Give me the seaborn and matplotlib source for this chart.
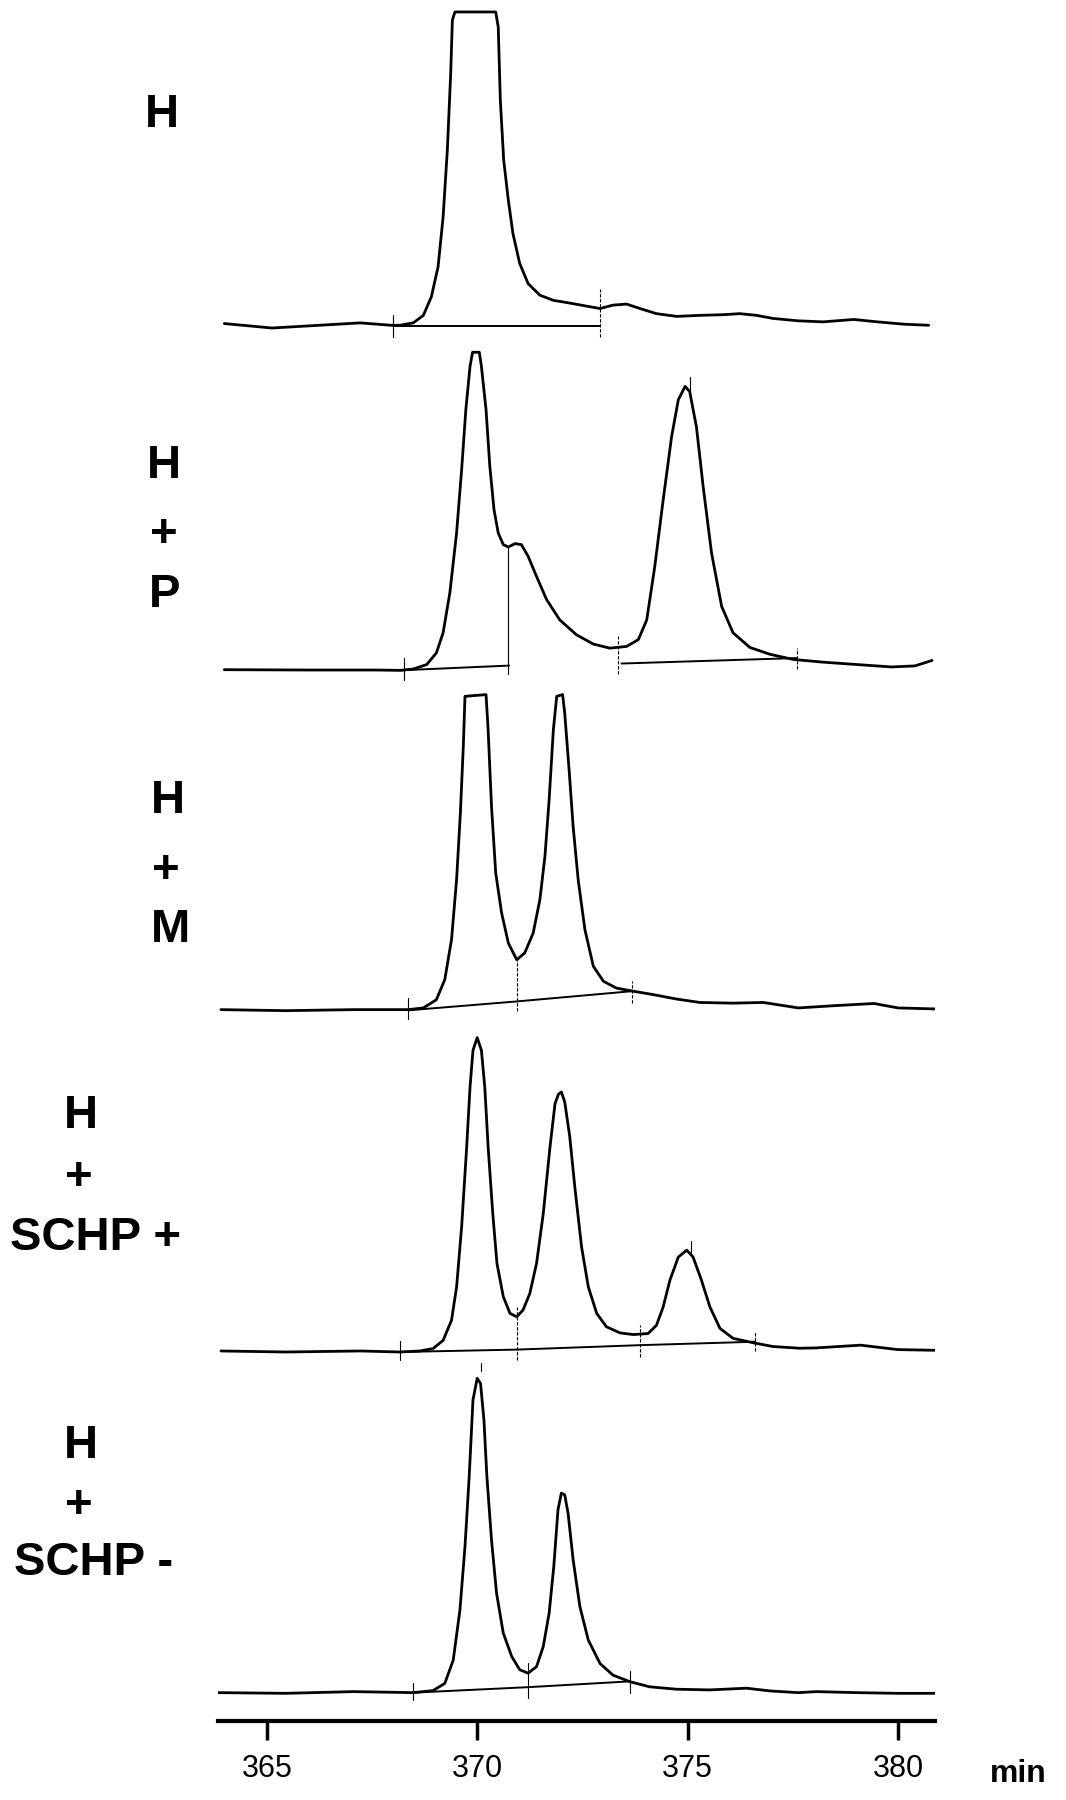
import matplotlib
matplotlib.use("Agg")
import matplotlib.pyplot as plt
import pandas as pd
import seaborn as sns

# retention time (min) and detector signal above each trace's baseline
h_time = [363.99, 365.12, 366.25, 367.22, 367.95, 368.16, 368.48, 368.72, 368.91, 369.07,
          369.19, 369.29, 369.37, 369.41, 369.47, 370.44, 370.50, 370.55, 370.63, 370.74,
          370.85, 371.01, 371.21, 371.49, 371.81, 372.20, 372.60, 372.92, 373.23, 373.55,
          373.87, 374.26, 374.74, 375.29, 375.85, 376.24, 376.64, 377.03, 377.63, 378.22,
          378.95, 379.51, 380.16, 380.73]
h_signal = [0.5, -0.8, 0.0, 0.7, 0.0, 0.0, 0.7, 2.9, 8.3, 17.1,
            31.7, 51.2, 73.6, 89.3, 91.7, 91.7, 87.3, 65.8, 48.3, 36.6,
            26.8, 18.1, 12.2, 8.8, 7.3, 6.5, 5.6, 4.9, 5.9, 6.2,
            4.9, 3.4, 2.6, 2.9, 3.1, 3.4, 2.9, 2.0, 1.3, 1.0,
            1.7, 1.0, 0.3, 0.0]

hp_time = [363.99, 365.93, 367.60, 368.16, 368.48, 368.80, 369.03, 369.19, 369.35, 369.51,
           369.63, 369.73, 369.83, 369.89, 370.05, 370.10, 370.21, 370.30, 370.40, 370.50,
           370.62, 370.74, 370.90, 371.05, 371.21, 371.41, 371.65, 371.96, 372.36, 372.76,
           373.15, 373.55, 373.83, 374.03, 374.22, 374.42, 374.62, 374.78, 374.94, 375.05,
           375.21, 375.37, 375.57, 375.81, 376.08, 376.48, 376.96, 377.51, 378.22, 379.03,
           379.84, 380.40, 380.81]
hp_signal = [-0.3, -0.4, -0.4, -0.5, -0.1, 1.2, 4.6, 10.5, 22.2, 39.7,
             58.2, 75.8, 88.5, 92.6, 92.6, 88.5, 75.8, 59.2, 46.5, 39.7,
             36.3, 35.6, 36.6, 36.3, 32.9, 27.0, 20.2, 14.3, 9.9, 7.2,
             6.0, 6.5, 8.5, 14.3, 29.9, 49.4, 67.9, 78.7, 82.6, 81.1,
             70.8, 53.3, 33.8, 18.2, 10.5, 6.2, 4.2, 2.7, 1.9, 1.2,
             0.5, 0.8, 2.4]

hm_time = [363.91, 365.45, 367.06, 368.36, 368.72, 369.03, 369.23, 369.39, 369.51, 369.60,
           369.67, 369.71, 370.21, 370.26, 370.34, 370.44, 370.58, 370.74, 370.94, 371.13,
           371.33, 371.49, 371.61, 371.71, 371.81, 371.89, 372.03, 372.08, 372.19, 372.28,
           372.40, 372.56, 372.76, 373.00, 373.31, 373.71, 374.18, 374.74, 375.29, 376.08,
           376.80, 377.27, 377.63, 378.54, 379.43, 380.00, 380.89]
hm_signal = [0.2, -0.1, 0.2, 0.2, 0.7, 3.1, 9.0, 20.7, 38.2, 57.7,
             77.3, 91.9, 92.4, 82.1, 59.7, 40.2, 28.5, 19.7, 14.8, 16.8,
             22.6, 32.4, 45.1, 61.7, 82.1, 91.9, 92.4, 87.0, 69.4, 53.8,
             38.2, 23.6, 12.9, 8.5, 6.5, 5.6, 4.6, 3.3, 2.3, 2.1,
             2.3, 1.4, 0.7, 1.4, 2.0, 0.7, 0.4]

hs_pos_time = [363.91, 365.45, 367.22, 368.16, 368.64, 368.95, 369.19, 369.39, 369.51, 369.63,
               369.75, 369.83, 369.90, 370.00, 370.10, 370.18, 370.26, 370.37, 370.47, 370.62,
               370.78, 370.94, 371.09, 371.25, 371.41, 371.57, 371.73, 371.85, 371.93, 372.00,
               372.08, 372.20, 372.32, 372.48, 372.64, 372.84, 373.07, 373.39, 373.71, 374.06,
               374.26, 374.42, 374.58, 374.78, 374.98, 375.13, 375.33, 375.53, 375.77, 376.08,
               376.56, 377.03, 377.67, 378.06, 379.11, 380.00, 380.89]
hs_pos_signal = [0.3, 0.0, 0.3, 0.0, 0.3, 1.0, 3.4, 9.3, 19.0, 36.6,
                 60.0, 77.6, 88.3, 92.0, 88.3, 77.6, 60.0, 40.5, 25.9, 16.2,
                 11.3, 10.3, 12.3, 17.1, 25.9, 40.5, 60.0, 72.7, 75.4, 76.1,
                 73.2, 63.0, 48.3, 30.8, 19.1, 11.3, 7.4, 5.6, 5.1, 5.4,
                 7.8, 13.2, 21.0, 27.8, 29.8, 27.8, 21.0, 13.2, 6.9, 4.0,
                 2.7, 1.6, 1.1, 1.2, 2.0, 0.7, 0.5]

hs_neg_time = [363.83, 365.45, 367.06, 368.48, 368.95, 369.23, 369.43, 369.59, 369.71, 369.81,
               369.90, 370.00, 370.08, 370.16, 370.23, 370.34, 370.46, 370.62, 370.82, 371.01,
               371.21, 371.41, 371.57, 371.71, 371.82, 371.92, 372.00, 372.08, 372.16, 372.28,
               372.44, 372.64, 372.92, 373.23, 373.63, 374.10, 374.74, 375.53, 376.40, 376.96,
               377.63, 378.06, 379.03, 380.00, 380.89]
hs_neg_signal = [0.0, -0.2, 0.3, 0.0, 0.6, 2.7, 9.5, 24.2, 42.8, 63.3,
                 85.7, 92.0, 90.5, 79.8, 63.3, 44.7, 29.1, 17.4, 10.6, 6.7,
                 5.7, 7.6, 13.5, 23.3, 36.9, 53.5, 58.4, 57.9, 52.5, 38.9,
                 25.2, 15.4, 8.5, 5.1, 3.2, 1.7, 1.0, 0.8, 1.3, 0.5,
                 0.0, 0.3, 0.0, -0.2, -0.2]

# integration baselines drawn under the peaks (time, signal)
h_base = [([368.00, 372.92], [-0.3, -0.3])]
hp_base = [([368.16, 370.76], [-0.5, 0.9]), ([373.43, 377.59], [1.5, 3.1])]
hm_base = [([368.36, 370.94, 373.68], [0.0, 2.6, 5.6])]
hs_pos_base = [([368.16, 370.94, 373.87, 376.60], [0.0, 0.7, 2.0, 3.0])]
hs_neg_base = [([368.48, 371.21, 373.63], [0.0, 1.6, 3.3])]

# integration marks: time, low, high, dashed
h_marks = [(368.00, -3.4, 2.9, False), (372.92, -3.4, 10.7, True)]
hp_marks = [(368.26, -3.2, 3.1, False), (370.74, -1.7, 35.8, False),
            (373.35, -1.7, 9.5, True), (377.59, -0.2, 6.0, True), (375.05, 81.5, 85.4, False)]
hm_marks = [(368.36, -2.4, 3.5, False), (370.94, -0.3, 14.8, True), (373.68, 2.1, 8.5, True)]
hs_pos_marks = [(368.16, -2.4, 3.3, False), (370.94, -2.4, 13.2, True),
                (373.87, -1.5, 7.8, True), (376.60, 0.3, 5.9, True), (375.07, 28.8, 32.6, False)]
hs_neg_marks = [(368.48, -2.2, 2.7, False), (371.21, -1.6, 8.6, False),
                (373.63, -0.2, 6.2, False), (370.08, 94.0, 96.5, False)]

trace_names = ["H", "H+P", "H+M", "H+SCHP+", "H+SCHP-"]
trace_offsets = [408.5, 308.0, 208.0, 108.0, 8.3]
x_ticks = [365, 370, 375, 380]

traces = [
    (h_time, h_signal, h_base, h_marks),
    (hp_time, hp_signal, hp_base, hp_marks),
    (hm_time, hm_signal, hm_base, hm_marks),
    (hs_pos_time, hs_pos_signal, hs_pos_base, hs_pos_marks),
    (hs_neg_time, hs_neg_signal, hs_neg_base, hs_neg_marks),
]

sns.set_style("white")
plt.rcParams["font.family"] = ["Liberation Sans", "DejaVu Sans"]
plt.rcParams["text.color"] = "black"
plt.rcParams["xtick.color"] = "black"
plt.rcParams["lines.solid_joinstyle"] = "round"

rows = []
for name, off, (t, s, _, _) in zip(trace_names, trace_offsets, traces):
    for ti, si in zip(t, s):
        rows.append({"trace": name, "time": ti, "signal": si + off})
df = pd.DataFrame(rows)

fig = plt.figure(figsize=(10.66, 18), dpi=100)
ax = fig.add_axes([218 / 1066, 79 / 1800, (935 - 218) / 1066, 1721 / 1800])
ax.patch.set_alpha(0)

sns.lineplot(data=df, x="time", y="signal", units="trace", estimator=None,
             color="black", linewidth=2.0, sort=False, ax=ax, legend=False)

for off, (_, _, bases, marks) in zip(trace_offsets, traces):
    for bt, bs in bases:
        ax.plot(bt, [v + off for v in bs], color="black", linewidth=1.4)
    for t, lo, hi, dashed in marks:
        ax.plot([t, t], [lo + off, hi + off], color="black", linewidth=0.8,
                linestyle=(0, (3, 1.5)) if dashed else "-")

ax.set_xlim(363.84, 380.88)
ax.set_ylim(0, 503.7)
for side in ["left", "top", "right"]:
    ax.spines[side].set_visible(False)
ax.spines["bottom"].set_linewidth(3)
ax.spines["bottom"].set_color("black")
ax.set_xticks(x_ticks)
ax.set_xticklabels([str(v) for v in x_ticks])
ax.tick_params(axis="x", direction="out", length=14, width=2.5, pad=10,
               labelsize=22, colors="black", bottom=True)
ax.set_yticks([])
ax.set_xlabel("")
ax.set_ylabel("")

fig.text(1018 / 1066, 1 - 1782 / 1800, "min", fontsize=23, fontweight="bold",
         ha="center", va="baseline")

W, H = 1066, 1800


def label(x, y, s, ha="center"):
    fig.text(x / W, 1 - y / H, s, fontsize=34, fontweight="bold", ha=ha, va="baseline")


label(162, 127, "H")
label(164, 478, "H")
label(164, 547, "+")
label(165, 607, "P")
label(168, 813, "H")
label(166, 883, "+")
label(171, 942, "M")
label(81, 1128, "H")
label(79, 1190, "+")
label(10, 1250, "SCHP +", ha="left")
label(81, 1458, "H")
label(79, 1518, "+")
label(14, 1575, "SCHP -", ha="left")

fig.savefig("out.png", dpi=100)
